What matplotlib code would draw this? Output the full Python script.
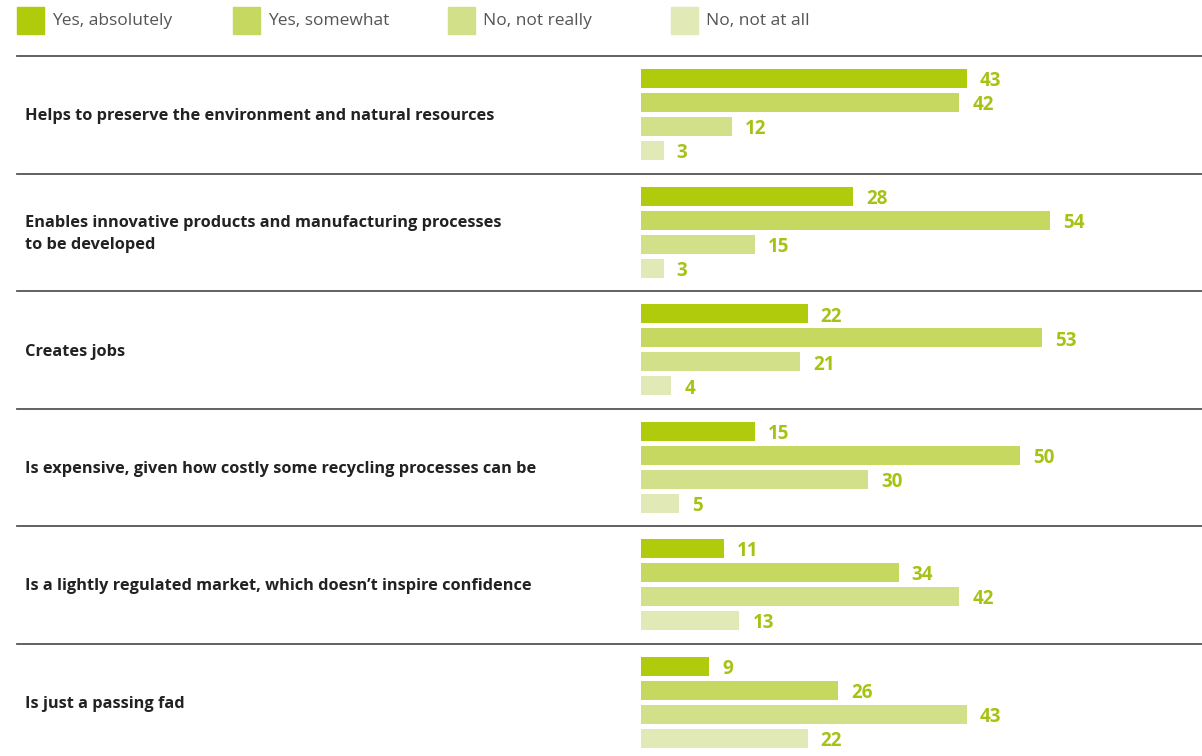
import matplotlib
matplotlib.use("Agg")
import matplotlib.pyplot as plt
from matplotlib.lines import Line2D
from matplotlib.patches import Rectangle

# data
statements = [
    "Helps to preserve the environment and natural resources",
    "Enables innovative products and manufacturing processes\nto be developed",
    "Creates jobs",
    "Is expensive, given how costly some recycling processes can be",
    "Is a lightly regulated market, which doesn\u2019t inspire confidence",
    "Is just a passing fad",
]
answers = ["Yes, absolutely", "Yes, somewhat", "No, not really", "No, not at all"]
yes_absolutely = [43, 28, 22, 15, 11, 9]
yes_somewhat = [42, 54, 53, 50, 34, 26]
no_not_really = [12, 15, 21, 30, 42, 43]
no_not_at_all = [3, 3, 4, 5, 13, 22]

colors = ["#b0cb0b", "#c6d85f", "#d3e08a", "#e1eab6"]
label_color = "#a6c313"
font = ["Liberation Sans Narrow", "Open Sans", "DejaVu Sans"]

W, H = 1202, 756
fig = plt.figure(figsize=(W / 100, H / 100), dpi=100)
ax = fig.add_axes([0, 0, 1, 1])
# pixel-ish layout: bars start at x=641, 7.575 px per percentage point
px_per = 7.575
x0 = 641
ax.set_xlim(-x0 / px_per, (W - x0) / px_per)
ax.set_ylim(H, 0)
ax.axis("off")

series = [yes_absolutely, yes_somewhat, no_not_really, no_not_at_all]
group_h, row_h, bar_h, first = 117.5, 24, 19, 78.5
for g, stmt in enumerate(statements):
    top = 56 + g * group_h
    ax.add_line(Line2D([-(x0 - 17) / px_per, (W - x0) / px_per], [top, top],
                       color="#555555", lw=1.3, clip_on=False))
    ys = [first + g * group_h + k * row_h for k in range(4)]
    vals = [s[g] for s in series]
    ax.barh(ys, vals, height=bar_h, color=colors, linewidth=0)
    for y, v in zip(ys, vals):
        ax.text(v + 13 / px_per, y + 3, str(v), va="center", ha="left",
                fontsize=13.5, fontweight="bold", color=label_color, family=font)
    ax.text(-(x0 - 25) / px_per, (ys[1] + ys[2]) / 2 + 2, stmt, va="center", ha="left",
            fontsize=11.75, fontweight="bold", color="#222222", family=font,
            linespacing=1.45)

# legend
leg_x = [17, 233, 448, 671]
for lx, name, c in zip(leg_x, answers, colors):
    fig.patches.append(Rectangle((lx / W, 1 - 34 / H), 27 / W, 27 / H,
                                 transform=fig.transFigure, color=c))
    fig.text((lx + 35) / W, 1 - 21 / H, name, va="center", ha="left",
             fontsize=12.5, color="#555555", family=font)

fig.savefig("out.png", dpi=100)
